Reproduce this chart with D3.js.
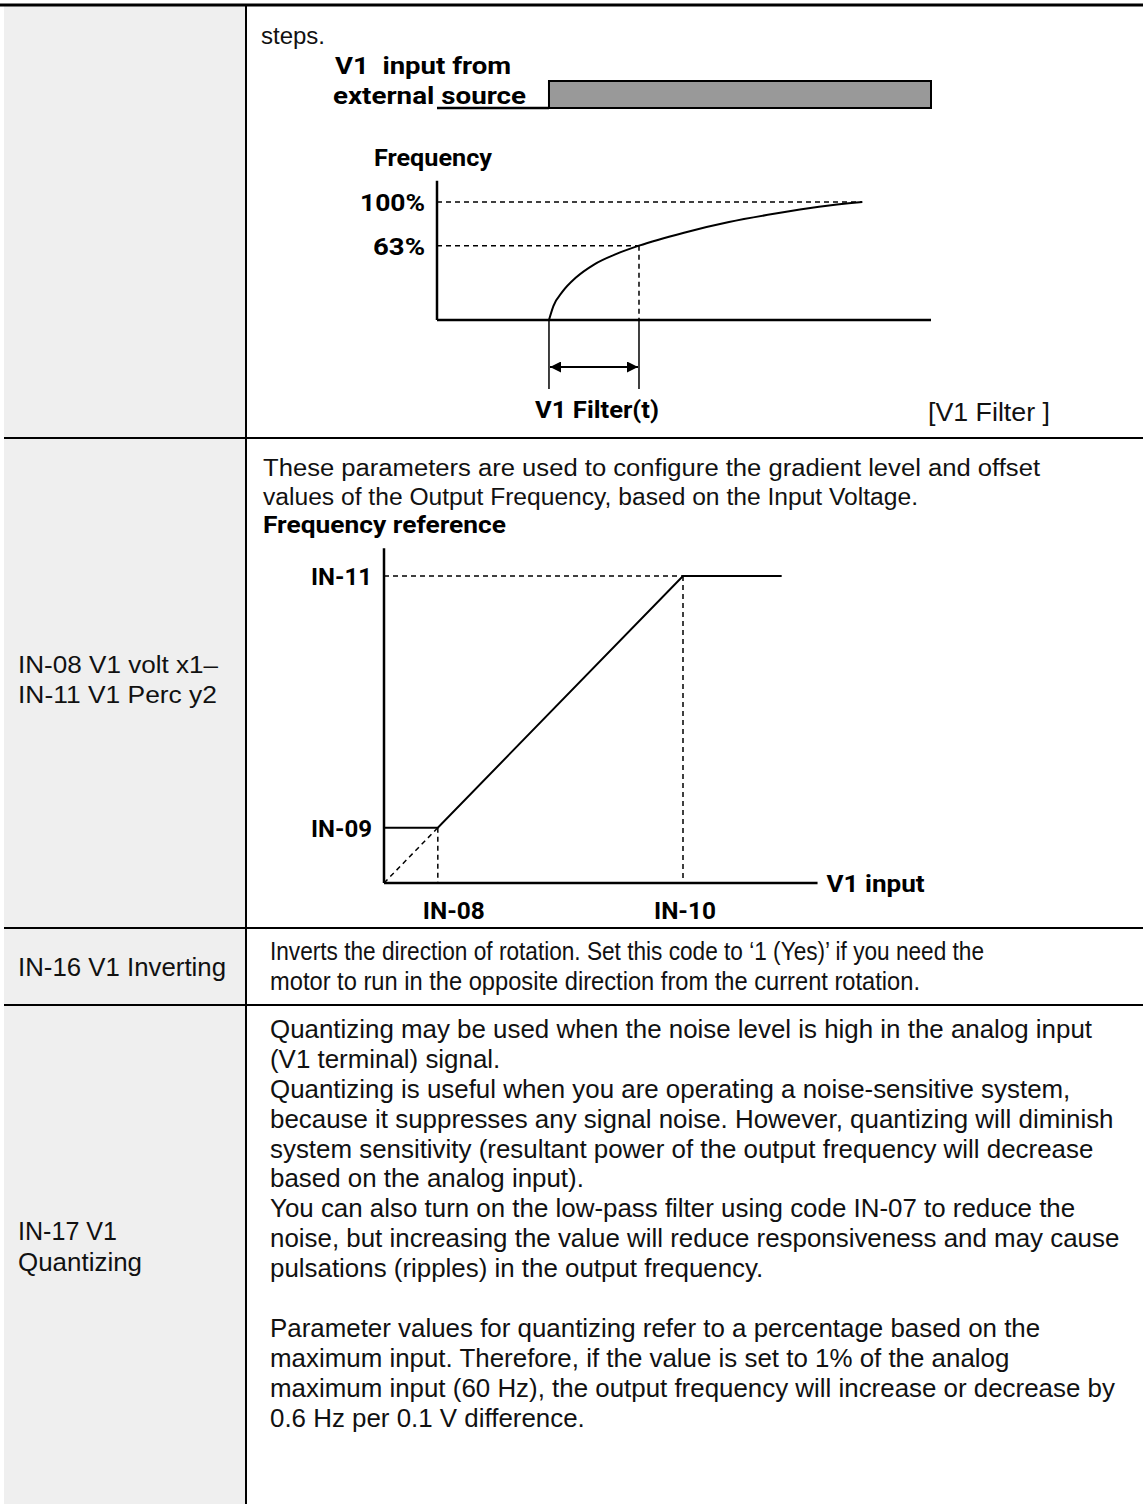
<!DOCTYPE html>
<html><head><meta charset="utf-8">
<script src="https://cdn.jsdelivr.net/npm/d3@7"></script>
<style>body{margin:0;background:#fff}svg{display:block}</style>
</head><body>
<svg id="c" width="1143" height="1504"></svg>
<script>
// ---------- DATA ----------
const paramLabels = [
  [],
  ["IN-08 V1 volt x1–", "IN-11 V1 Perc y2"],
  ["IN-16 V1 Inverting"],
  ["IN-17 V1", "Quantizing"]
];
const row1Text = ["steps."];
const row2Text = [
  "These parameters are used to configure the gradient level and offset",
  "values of the Output Frequency, based on the Input Voltage."
];
const row3Text = [
  "Inverts the direction of rotation. Set this code to \u20181 (Yes)\u2019 if you need the",
  "motor to run in the opposite direction from the current rotation."
];
const row4Text = [
  "Quantizing may be used when the noise level is high in the analog input",
  "(V1 terminal) signal.",
  "Quantizing is useful when you are operating a noise-sensitive system,",
  "because it suppresses any signal noise. However, quantizing will diminish",
  "system sensitivity (resultant power of the output frequency will decrease",
  "based on the analog input).",
  "You can also turn on the low-pass filter using code IN-07 to reduce the",
  "noise, but increasing the value will reduce responsiveness and may cause",
  "pulsations (ripples) in the output frequency.",
  "",
  "Parameter values for quantizing refer to a percentage based on the",
  "maximum input. Therefore, if the value is set to 1% of the analog",
  "maximum input (60 Hz), the output frequency will increase or decrease by",
  "0.6 Hz per 0.1 V difference."
];

// V1 filter diagram (time in units of the filter constant, output in %)
const filterTimeDomain = [-1.244, 4.244];
const filterTau = 1;
const inputStepStart = 0;
const filterTicks = [{label: "100%", value: 100}, {label: "63%", value: 63}];
const filterCurve = [[0, 0], [0.05, 12], [0.15, 24], [0.3, 36], [0.5, 47], [0.75, 56], [1, 63],
  [1.5, 74], [2, 83], [2.5, 90], [3, 96], [3.48, 100]];
const filterLabels = {input1: "V1  input from", input2: "external source", yTitle: "Frequency", span: "V1 Filter(t)", caption: "[V1 Filter ]"};

// Gradient / offset diagram (V1 input %, frequency reference %)
const gradXTicks = [{label: "IN-08", value: 18}, {label: "IN-10", value: 100}];
const gradYTicks = [{label: "IN-09", value: 18}, {label: "IN-11", value: 100}];
const gradOutput = [[0, 18], [18, 18], [100, 100], [133, 100]];
const gradXMax = 145, gradYMax = 109;
const gradLabels = {yTitle: "Frequency reference", xTitle: "V1 input"};

// ---------- LAYOUT ----------
const svg = d3.select("#c");
const W = 1143, H = 1504;
const colX = 246, rowLines = [438, 928, 1005];
const bodyFont = "'Liberation Sans', Arial, sans-serif";
const boldFont = "Roboto, Lato, sans-serif";

svg.append("rect").attr("x", 4).attr("y", 5).attr("width", colX - 4).attr("height", H - 5).attr("fill", "#efefef");
svg.append("line").attr("x1", 0).attr("x2", W).attr("y1", 5).attr("y2", 5).attr("stroke", "#000").attr("stroke-width", 3);
svg.append("line").attr("x1", colX).attr("x2", colX).attr("y1", 5).attr("y2", H).attr("stroke", "#000").attr("stroke-width", 2);
svg.selectAll("line.row").data(rowLines).join("line").attr("class", "row")
  .attr("x1", 4).attr("x2", W).attr("y1", d => d).attr("y2", d => d).attr("stroke", "#000").attr("stroke-width", 2);

function textBlock(parent, lines, x, y0, step, size, opts = {}) {
  const g = parent.append("g");
  lines.forEach((t, i) => {
    if (!t) return;
    const el = g.append("text").attr("x", x).attr("y", y0 + i * step)
      .attr("font-family", opts.family || bodyFont).attr("font-size", size)
      .attr("font-weight", opts.weight || 400).attr("fill", "#111").text(t);
    if (opts.widths && opts.widths[i]) el.attr("textLength", opts.widths[i]).attr("lengthAdjust", "spacingAndGlyphs");
  });
  return g;
}
// bold diagram label fitted to a given width
function label(parent, txt, x, y, size, width, anchor) {
  const el = parent.append("text").attr("x", x).attr("y", y).attr("font-family", boldFont)
    .attr("font-weight", 700).attr("font-size", size).attr("fill", "#000").attr("xml:space", "preserve")
    .attr("text-anchor", anchor || "start").text(txt);
  if (width) el.attr("textLength", width).attr("lengthAdjust", "spacingAndGlyphs");
  return el;
}

// left parameter labels
textBlock(svg, paramLabels[1], 18, 673, 30, 23, {widths: [200, 199]});
textBlock(svg, paramLabels[2], 18, 976, 30, 26, {widths: [208]});
textBlock(svg, paramLabels[3], 18, 1240, 31, 26, {widths: [99, 124]});

// right column text
textBlock(svg, row1Text, 261, 44, 30, 24);
textBlock(svg, row2Text, 263, 476, 29, 23, {widths: [777, 655]});

// row 3: condensed lines
const bodyX = 270;
textBlock(svg, row3Text, bodyX, 960, 30, 26, {widths: [714, 650]});

// row 4: one body style, uniform horizontal scale fitted to the longest line
const condensed = svg.append("g");
const g4 = textBlock(condensed, row4Text, bodyX, 1038, 29.9, 26);
const refLine = g4.selectAll("text").filter(function () { return this.textContent.startsWith("noise, but"); }).node();
const k = refLine ? 850 / refLine.getComputedTextLength() : 1;
condensed.attr("transform", `translate(${bodyX},0) scale(${k},1) translate(${-bodyX},0)`);

// ---------- V1 FILTER DIAGRAM ----------
const xF = d3.scaleLinear().domain(filterTimeDomain).range([437, 931]);
const yF = d3.scaleLinear().domain([0, 100]).range([320, 202]);
const yIn = d3.scaleLinear().domain([0, 1]).range([108, 81]);
const gF = svg.append("g");

// input signal
gF.append("line").attr("x1", xF(filterTimeDomain[0])).attr("x2", xF(inputStepStart))
  .attr("y1", yIn(0)).attr("y2", yIn(0)).attr("stroke", "#000").attr("stroke-width", 2.5);
gF.append("rect").attr("x", xF(inputStepStart)).attr("y", yIn(1))
  .attr("width", xF(filterTimeDomain[1]) - xF(inputStepStart)).attr("height", yIn(0) - yIn(1))
  .attr("fill", "#999").attr("stroke", "#000").attr("stroke-width", 2);
label(gF, filterLabels.input1, 335, 74, 24, 176);
label(gF, filterLabels.input2, 333, 104, 24, 193);

// axes
gF.append("line").attr("x1", xF(filterTimeDomain[0])).attr("x2", xF(filterTimeDomain[0]))
  .attr("y1", yF(118)).attr("y2", yF(0)).attr("stroke", "#000").attr("stroke-width", 2.5);
gF.append("line").attr("x1", xF(filterTimeDomain[0])).attr("x2", xF(filterTimeDomain[1]))
  .attr("y1", yF(0)).attr("y2", yF(0)).attr("stroke", "#000").attr("stroke-width", 2.5);
label(gF, filterLabels.yTitle, 374, 166, 23, 118);

// tick guides
const lastPt = filterCurve[filterCurve.length - 1];
gF.selectAll("line.fg").data(filterTicks).join("line").attr("class", "fg")
  .attr("x1", xF(filterTimeDomain[0])).attr("x2", d => d.value === 63 ? xF(filterTau) : xF(lastPt[0]))
  .attr("y1", d => yF(d.value)).attr("y2", d => yF(d.value))
  .attr("stroke", "#000").attr("stroke-width", 1.5).attr("stroke-dasharray", "5,4");
filterTicks.forEach(d => label(gF, d.label, 425 - (d.label.length === 4 ? 65 : 52), yF(d.value) + 9, 24,
  d.label.length === 4 ? 65 : 52));
gF.append("line").attr("x1", xF(filterTau)).attr("x2", xF(filterTau)).attr("y1", yF(63)).attr("y2", yF(0))
  .attr("stroke", "#000").attr("stroke-width", 1.5).attr("stroke-dasharray", "5,4");

// response curve
gF.append("path").datum(filterCurve)
  .attr("d", d3.line().x(d => xF(d[0])).y(d => yF(d[1])).curve(d3.curveMonotoneX))
  .attr("fill", "none").attr("stroke", "#000").attr("stroke-width", 2);

// time span marker
const defs = svg.append("defs");
defs.append("marker").attr("id", "ah").attr("viewBox", "0 0 10 10").attr("refX", 10).attr("refY", 5)
  .attr("markerWidth", 13).attr("markerHeight", 11).attr("markerUnits", "userSpaceOnUse").attr("orient", "auto-start-reverse")
  .append("path").attr("d", "M0,0L10,5L0,10Z").attr("fill", "#000");
[inputStepStart, filterTau].forEach(t => {
  gF.append("line").attr("x1", xF(t)).attr("x2", xF(t)).attr("y1", yF(0)).attr("y2", 389)
    .attr("stroke", "#000").attr("stroke-width", 1.5);
});
gF.append("line").attr("x1", xF(inputStepStart) + 1).attr("x2", xF(filterTau) - 1).attr("y1", 367).attr("y2", 367)
  .attr("stroke", "#000").attr("stroke-width", 2).attr("marker-start", "url(#ah)").attr("marker-end", "url(#ah)");
label(gF, filterLabels.span, 535, 418, 23, 124);
gF.append("text").attr("x", 928).attr("y", 421).attr("font-family", bodyFont)
  .attr("font-size", 25).attr("fill", "#111").attr("textLength", 122).attr("lengthAdjust", "spacingAndGlyphs")
  .text(filterLabels.caption);

// ---------- GRADIENT DIAGRAM ----------
const xG = d3.scaleLinear().domain([0, 100]).range([384, 683]);
const yG = d3.scaleLinear().domain([0, 100]).range([883, 576]);
const gG = svg.append("g");
label(gG, gradLabels.yTitle, 263, 533, 23, 243);

// dashed guides
const dash = (x1, y1, x2, y2) => gG.append("line").attr("x1", x1).attr("y1", y1).attr("x2", x2).attr("y2", y2)
  .attr("stroke", "#000").attr("stroke-width", 1.5).attr("stroke-dasharray", "5,4");
const p1 = gradOutput[1], p2 = gradOutput[2];
dash(xG(0), yG(p2[1]), xG(p2[0]), yG(p2[1]));
dash(xG(p2[0]), yG(p2[1]), xG(p2[0]), yG(0));
dash(xG(p1[0]), yG(p1[1]), xG(p1[0]), yG(0));
dash(xG(0), yG(0), xG(p1[0]), yG(p1[1]));

// axes
gG.append("line").attr("x1", xG(0)).attr("x2", xG(0)).attr("y1", yG(gradYMax)).attr("y2", yG(0))
  .attr("stroke", "#000").attr("stroke-width", 2.5);
gG.append("line").attr("x1", xG(0)).attr("x2", xG(gradXMax)).attr("y1", yG(0)).attr("y2", yG(0))
  .attr("stroke", "#000").attr("stroke-width", 2.5);

// output line
gG.append("path").datum(gradOutput)
  .attr("d", d3.line().x(d => xG(d[0])).y(d => yG(d[1])))
  .attr("fill", "none").attr("stroke", "#000").attr("stroke-width", 2);

// labels
gradYTicks.forEach(d => label(gG, d.label, 311, yG(d.value) + 9, 24, 61));
gradXTicks.forEach((d, i) => label(gG, d.label, i === 0 ? xG(d.value) - 15 : xG(d.value) - 29, 919, 24, 62));
label(gG, gradLabels.xTitle, xG(gradXMax) + 9, yG(0) + 9, 24, 98);
</script>
</body></html>
